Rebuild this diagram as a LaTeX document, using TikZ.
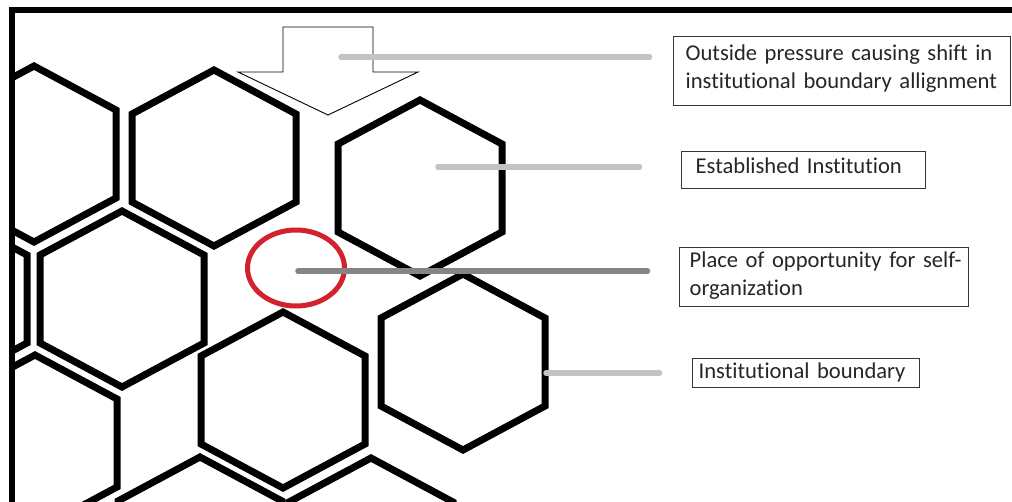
\documentclass[tikz,border=0pt]{standalone}
\usepackage{fontspec}
\setmainfont{Carlito}[Ligatures={NoCommon}]
\usetikzlibrary{shapes.geometric}
\definecolor{lead}{HTML}{C3C3C3}
\definecolor{leaddark}{HTML}{858585}
\definecolor{ringred}{HTML}{D0232E}
\definecolor{txt}{HTML}{262626}
\definecolor{boxline}{HTML}{363636}
\begin{document}
\begin{tikzpicture}[x=1pt,y=-1pt,
  hexline/.style={line width=7pt,line join=miter,black},
  hexa/.pic={\coordinate (-c) at (0,0);
    \draw[hexline] (0,-88) -- (82,-44) -- (82,44) -- (0,88) -- (-82,44) -- (-82,-44) -- cycle;},
  leader/.style={line width=5.5pt,line cap=round,lead},
  leaderdark/.style={line width=5.5pt,line cap=round,leaddark},
  label/.style={draw=boxline,line width=1.3pt,anchor=north west,align=left,
    text=txt,font=\fontsize{22.6}{27.5}\selectfont,inner ysep=0pt},
  frame/.style={line width=6pt,black,line cap=rect}
]
\useasboundingbox (0,0) rectangle (1012,501);
\fill[white] (0,0) rectangle (1012,501);

% hexagons (clipped by frame)
\begin{scope}
\clip (12,10) rectangle (1012,501);
\pic (hA) at (34,154) {hexa};
\pic (hB) at (214,158) {hexa};
\pic (hC) at (420,188) {hexa};
\pic (hD) at (122,299) {hexa};
\pic (hE) at (-55,299) {hexa};
\pic (hF) at (35,443) {hexa};
\pic (hG) at (283,400) {hexa};
\pic (hH) at (463,362) {hexa};
\pic (hI) at (200,545) {hexa};
\pic (hJ) at (371,546) {hexa};
\end{scope}

% block arrow
\node[draw=none,inner sep=0pt] (arrowtip) at (328,115) {};
\draw[black,line width=0.9pt,fill=white,line join=miter]
  (283,27) -- (373,27) -- (373,72) -- (418,72) -- (arrowtip.center) -- (238,72) -- (283,72) -- cycle;

% red ring
\node[draw=ringred,line width=5pt,ellipse,minimum width=97pt,minimum height=76pt,inner sep=0pt] (ring) at (296,268) {};

% label boxes
\node[label,minimum width=337pt,minimum height=69pt,text width=313pt,inner xsep=12pt,
      text height=24pt,text depth=45pt] (b1) at (673,36)
  {\mbox{Outside pressure causing shift in}\\\mbox{institutional boundary allignment}};
\node[label,minimum width=244pt,minimum height=37pt,text width=216pt,inner xsep=14pt,
      text height=22pt,text depth=15pt] (b2) at (681,151)
  {Established Institution};
\node[label,minimum width=289pt,minimum height=59pt,text width=269pt,inner xsep=10pt,
      text height=20pt,text depth=39pt] (b3) at (679,247)
  {\mbox{Place of opportunity for self-}\\organization};
\node[label,minimum width=227pt,minimum height=29pt,text width=215pt,inner xsep=6pt,
      text height=20pt,text depth=9pt] (b4) at (692,358)
  {Institutional boundary};

% leaders
\coordinate (s1) at (341,57);
\coordinate (s2) at (438,167);
\coordinate (s3) at (298,271);
\coordinate (s4) at (546,373);
\draw[leader,shorten >=23.5pt] (s1) -- (s1 -| b1.west);
\draw[leader,shorten >=41.5pt] (s2) -- (s2 -| b2.west);
\draw[leaderdark,shorten >=31.5pt] (s3) -- (s3 -| b3.west);
\draw[leader,shorten >=32.5pt] (s4) -- (s4 -| b4.west);

% frame
\draw[frame] (12,501) -- (12,10) -- (1012,10);
\end{tikzpicture}
\end{document}
